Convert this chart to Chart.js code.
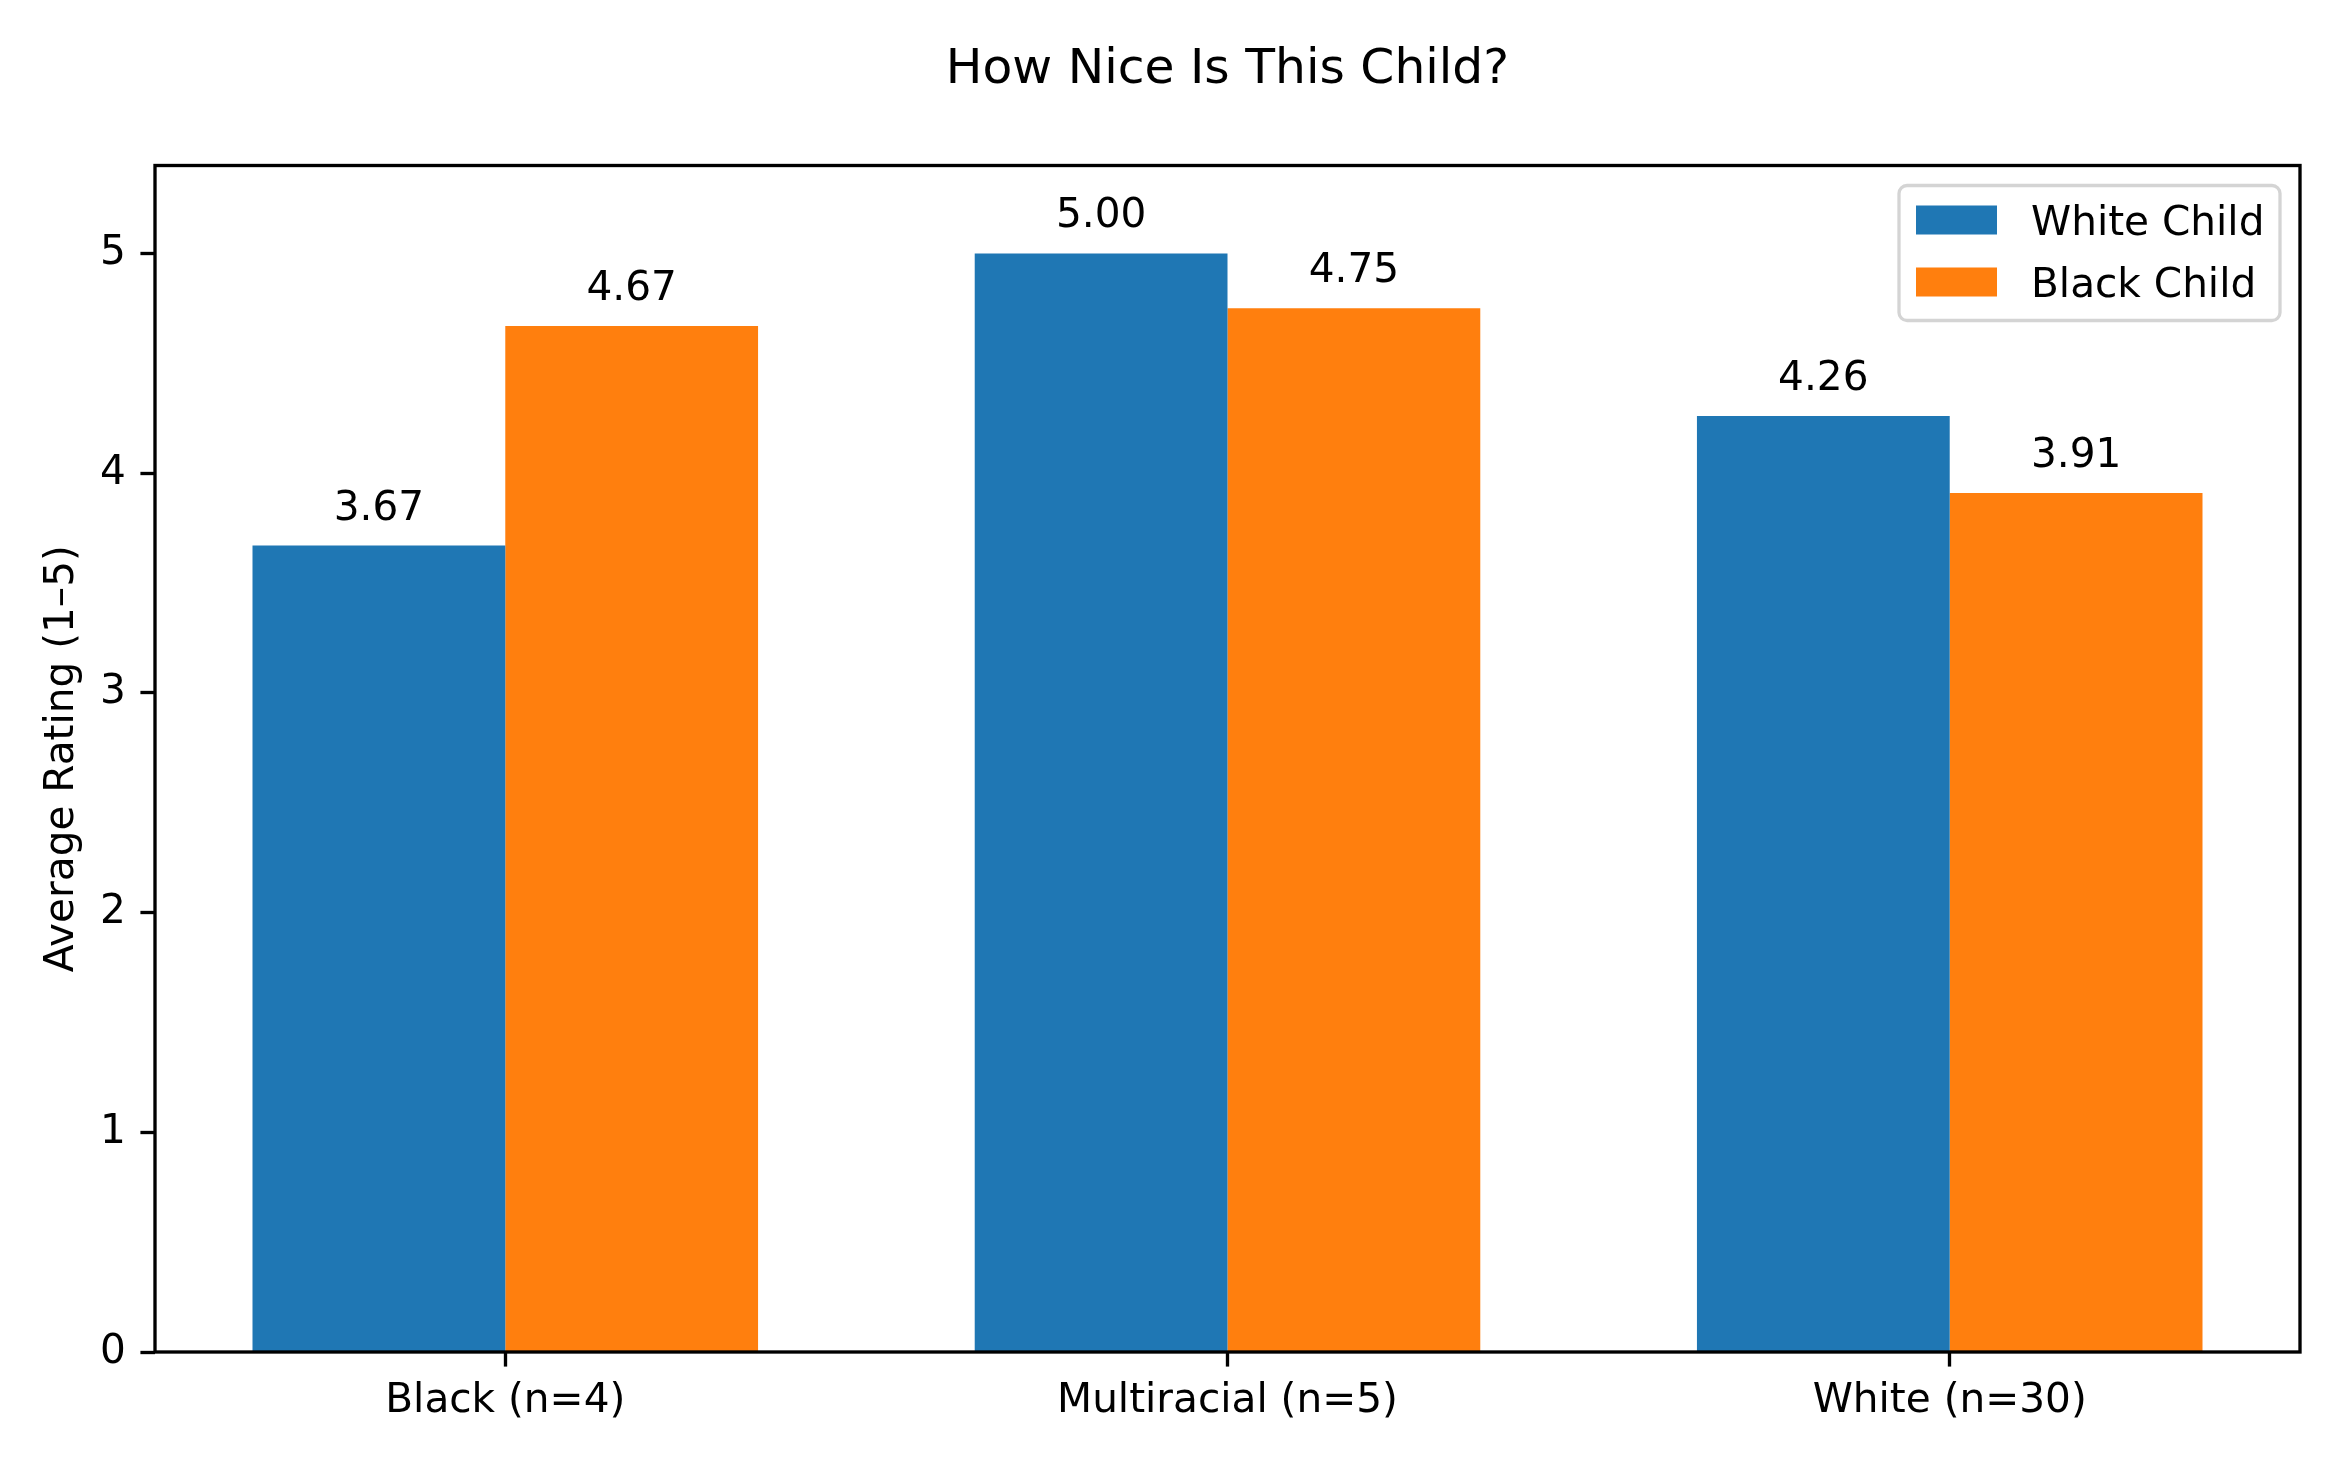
<!DOCTYPE html>
<html>
<head>
<meta charset="utf-8">
<script src="https://cdn.jsdelivr.net/npm/chart.js@4.4.1/dist/chart.umd.min.js"></script>
<style>
  html, body { margin: 0; padding: 0; background: #fff; }
  canvas { display: block; }
</style>
</head>
<body>
<canvas id="ratingChart" width="2344" height="1465" style="width:2344px;height:1465px"></canvas>
<script>
// data
const categories = ['Black (n=4)', 'Multiracial (n=5)', 'White (n=30)'];
const seriesNames = ['White Child', 'Black Child'];
const whiteChild = [3.67, 5.00, 4.26];
const blackChild = [4.67, 4.75, 3.91];
const yTicks = [0, 1, 2, 3, 4, 5];
const seriesColors = ['#1f77b4', '#ff7f0e'];

const PT = 300 / 72; // px per point
const FS = 10 * PT * 0.975; // text a touch smaller than 10pt to match widths
Chart.defaults.font.family = "'DejaVu Sans', sans-serif";
Chart.defaults.font.size = FS;
Chart.defaults.color = '#000';

// frame round the plot (drawn over bars like matplotlib spines)
const framePlugin = {
	id: 'frame',
	afterDatasetsDraw(chart) {
		const { ctx, chartArea: a } = chart;
		ctx.save();
		ctx.strokeStyle = '#000';
		ctx.lineWidth = 0.8 * PT;
		ctx.strokeRect(a.left, a.top, a.right - a.left, a.bottom - a.top);
		ctx.restore();
	}
};

// value labels above every bar
const barLabelPlugin = {
	id: 'barLabels',
	afterDatasetsDraw(chart) {
		const ctx = chart.ctx;
		ctx.save();
		ctx.font = `${FS}px 'DejaVu Sans'`;
		ctx.fillStyle = '#000';
		ctx.textAlign = 'center';
		ctx.textBaseline = 'alphabetic';
		chart.data.datasets.forEach((ds, i) => {
			chart.getDatasetMeta(i).data.forEach((bar, j) => {
				ctx.fillText(ds.data[j].y.toFixed(2), bar.x, bar.y - 26);
			});
		});
		ctx.restore();
	}
};

// legend box in the upper right of the plot
const legendPlugin = {
	id: 'cornerLegend',
	afterDraw(chart) {
		const { ctx, chartArea: a } = chart;
		const boxRight = a.right - 20, boxTop = a.top + 20;
		const boxW = 381, boxH = 135;
		const x0 = boxRight - boxW;
		ctx.save();
		ctx.beginPath();
		ctx.roundRect(x0, boxTop, boxW, boxH, 8);
		ctx.fillStyle = 'rgba(255,255,255,0.8)';
		ctx.fill();
		ctx.strokeStyle = '#d4d4d4';
		ctx.lineWidth = 3.3;
		ctx.stroke();
		ctx.font = `${FS}px 'DejaVu Sans'`;
		ctx.textAlign = 'left';
		ctx.textBaseline = 'alphabetic';
		chart.data.datasets.forEach((ds, i) => {
			const base = boxTop + 49 + i * 62;
			ctx.fillStyle = ds.backgroundColor;
			ctx.fillRect(x0 + 17, base - 29, 81, 29);
			ctx.fillStyle = '#000';
			ctx.fillText(ds.label, x0 + 132, base);
		});
		ctx.restore();
	}
};

const chartData = {
	datasets: [whiteChild, blackChild].map((vals, i) => ({
		label: seriesNames[i],
		data: vals.map((v, j) => ({ x: j, y: v })),
		backgroundColor: seriesColors[i],
		borderWidth: 0,
		categoryPercentage: 0.7,
		barPercentage: 1.0
	}))
};

new Chart(document.getElementById('ratingChart'), {
	type: 'bar',
	data: chartData,
	plugins: [framePlugin, barLabelPlugin, legendPlugin],
	options: {
		responsive: false,
		devicePixelRatio: 1,
		animation: false,
		layout: { padding: { left: 0, right: 44, top: 0, bottom: 0 } },
		plugins: {
			legend: { display: false },
			tooltip: { enabled: false },
			title: {
				display: true,
				text: 'How Nice Is This Child?',
				fullSize: false,
				font: { size: 12 * PT * 0.975, weight: 'normal' },
				color: '#000',
				padding: { top: 41, bottom: 66 }
			}
		},
		scales: {
			x: {
				type: 'linear',
				offset: false,
				min: -0.485,
				max: 2.485,
				afterBuildTicks: (scale) => { scale.ticks = categories.map((c, i) => ({ value: i })); },
				afterFit: (scale) => { scale.height = 113; },
				ticks: {
					padding: 10,
					callback: (v) => categories[v]
				},
				grid: {
					offset: false,
					drawOnChartArea: false,
					drawTicks: true,
					tickLength: 3.5 * PT,
					tickWidth: 0.8 * PT,
					tickColor: '#000'
				},
				border: { display: false }
			},
			y: {
				min: 0,
				max: 5.4,
				afterBuildTicks: (scale) => { scale.ticks = yTicks.map(v => ({ value: v })); },
				afterFit: (scale) => { scale.width = 155; },
				ticks: { padding: 3.5 * PT },
				title: {
					display: true,
					text: 'Average Rating (1–5)',
					padding: { top: 38, bottom: 0 }
				},
				grid: {
					drawOnChartArea: false,
					drawTicks: true,
					tickLength: 3.5 * PT,
					tickWidth: 0.8 * PT,
					tickColor: '#000'
				},
				border: { display: false }
			}
		}
	}
});
</script>
</body>
</html>
